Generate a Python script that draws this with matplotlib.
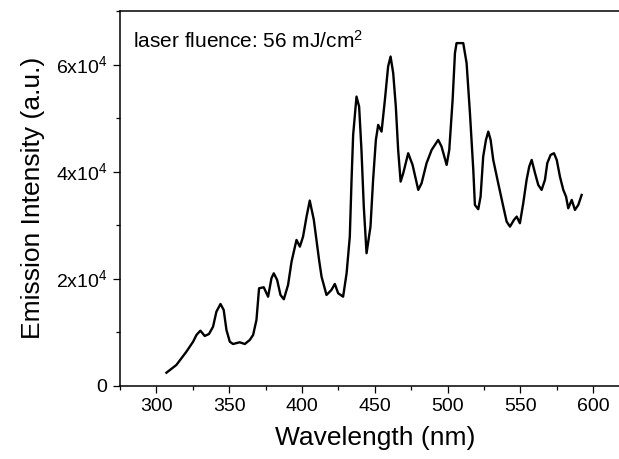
import numpy as np
import matplotlib
matplotlib.use('Agg')
import matplotlib.pyplot as plt
from matplotlib.ticker import MultipleLocator, FixedLocator

plt.rcParams['font.family'] = ['Liberation Sans', 'DejaVu Sans']
plt.rcParams['mathtext.fontset'] = 'custom'
plt.rcParams['mathtext.rm'] = 'Liberation Sans'
plt.rcParams['mathtext.default'] = 'regular'

####DATA####
wavelength = [306.9, 313.7, 320.6, 325.2, 327.5, 330.2, 333.2, 336.1, 338.9, 341.2,
              344.0, 346.2, 348.1, 350.4, 352.6, 357.2, 360.7, 364.1, 366.4, 368.7,
              370.5, 373.7, 376.7, 379.0, 380.6, 382.9, 385.2, 387.5, 390.4, 392.8,
              396.2, 398.5, 400.7, 403.1, 405.3, 408.1, 411.7, 413.4, 416.8, 420.2,
              422.5, 424.8, 428.2, 430.6, 432.8, 434.0, 435.1, 437.4, 439.2, 440.8,
              442.4, 444.3, 447.0, 448.8, 450.7, 452.3, 454.6, 456.9, 459.1, 460.8,
              462.6, 464.4, 466.0, 467.7, 469.5, 472.9, 475.9, 479.8, 482.1, 485.5,
              489.0, 493.5, 495.8, 499.3, 501.1, 503.4, 505.0, 506.1, 510.7, 513.0,
              515.3, 517.6, 518.7, 521.0, 522.6, 524.4, 526.3, 527.9, 529.5, 531.3,
              534.7, 538.2, 540.5, 542.8, 545.5, 547.4, 549.6, 551.9, 554.2, 556.0,
              557.7, 560.0, 562.2, 564.5, 566.8, 568.4, 570.7, 573.0, 574.9, 577.1,
              579.4, 581.3, 582.8, 585.2, 587.4, 589.7, 592.0]
intensity = [2430, 3870, 6360, 8220, 9480, 10280, 9290, 9660, 11030, 13830,
             15270, 14150, 10410, 8220, 7790, 8110, 7790, 8540, 9480, 12280,
             18200, 18390, 16630, 20070, 21000, 19760, 16950, 16150, 18820, 23180,
             27230, 25980, 27850, 31590, 34580, 30970, 23490, 20370, 16950, 17890,
             19010, 17270, 16630, 21010, 27850, 38450, 46860, 54010, 52140, 44050,
             33460, 24750, 29720, 38450, 45920, 48720, 47470, 53400, 59620, 61490,
             58390, 52140, 44050, 38130, 39700, 43430, 41250, 36580, 37830, 41570,
             44050, 45920, 44670, 41250, 44050, 53400, 62130, 64000, 64000, 60260,
             50910, 40310, 33770, 32970, 35320, 42800, 45920, 47470, 45920, 42180,
             37830, 33460, 30650, 29720, 30970, 31590, 30350, 34090, 38450, 40930,
             42180, 39700, 37510, 36580, 38450, 41570, 43120, 43430, 42180, 39060,
             36580, 35320, 33150, 34710, 32840, 33770, 35640]

xticks = [300, 350, 400, 450, 500, 550, 600]
yticks = [0, 20000, 40000, 60000]
yticklabels = ['0', r'2x10$^4$', r'4x10$^4$', r'6x10$^4$']

####Generate Figure####
fig = plt.figure(figsize=(6.19, 4.59), dpi=100)
ax = fig.add_axes([120/619, 73.3/459, 509.7/619, 374.7/459])
ax.plot(wavelength, intensity, 'k', linewidth=1.7)

ax.set_xlim(275, 625)
ax.set_ylim(0, 70000)
ax.xaxis.set_major_locator(FixedLocator(xticks))
ax.xaxis.set_minor_locator(MultipleLocator(25))
ax.set_yticks(yticks)
ax.set_yticklabels(yticklabels)
ax.yaxis.set_minor_locator(MultipleLocator(10000))
ax.tick_params(axis='both', which='major', direction='out', length=5, width=0.9, labelsize=14, pad=4)
ax.tick_params(axis='both', which='minor', direction='out', length=3, width=0.9)
for s in ax.spines.values():
    s.set_linewidth(1.1)
ax.spines['right'].set_visible(False)

ax.set_xlabel('Wavelength (nm)', fontsize=19, labelpad=8)
ax.set_ylabel('Emission Intensity (a.u.)', fontsize=19, labelpad=8)
ax.text(0.025, 0.95, r'laser fluence: 56 mJ/cm$^2$', transform=ax.transAxes,
        fontsize=15, va='top', ha='left')

fig.savefig('out.png', dpi=100)
